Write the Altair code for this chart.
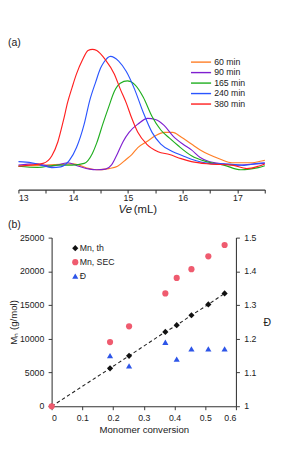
import altair as alt
import pandas as pd

FONT = "Liberation Sans"

# ---------------- panel (a): SEC traces ----------------
series_labels = ["60 min", "90 min", "165 min", "240 min", "380 min"]
series_colors = ["#ff7f27", "#7f1fd0", "#1fae1f", "#2a55ff", "#ff1f1f"]

ve_60 = [13.0, 13.5, 14.0, 14.3, 14.43, 14.65, 14.81, 14.97, 15.07, 15.18, 15.34, 15.50,
         15.66, 15.82, 15.97, 16.16, 16.32, 16.48, 16.69, 16.90, 17.12, 17.27, 17.44, 17.5]
i_60 = [0.0, 0.01, 0.02, -0.02, -0.03, -0.02, 0.0, 0.06, 0.1, 0.16, 0.21, 0.26,
        0.29, 0.29, 0.25, 0.19, 0.14, 0.1, 0.06, 0.03, 0.03, 0.03, 0.045, 0.05]

ve_90 = [13.0, 13.3, 13.6, 13.9, 14.1, 14.3, 14.43, 14.59, 14.70, 14.81, 14.91, 15.02, 15.18,
         15.36, 15.50, 15.66, 15.82, 16.0, 16.16, 16.32, 16.48, 16.75, 17.0, 17.27, 17.5]
i_90 = [0.01, 0.02, 0.0, 0.03, 0.0, -0.025, -0.03, -0.025, 0.012, 0.11, 0.21, 0.29, 0.36,
        0.41, 0.40, 0.35, 0.26, 0.19, 0.14, 0.075, 0.04, 0.02, 0.01, 0.018, 0.025]

ve_165 = [13.0, 13.35, 13.72, 13.98, 14.2, 14.35, 14.43, 14.54, 14.65, 14.75, 14.86, 14.99,
          15.12, 15.28, 15.44, 15.6, 15.76, 15.92, 16.16, 16.43, 16.75, 17.06, 17.22, 17.38, 17.5]
i_165 = [0.0, -0.01, 0.01, 0.01, 0.025, 0.11, 0.2, 0.36, 0.51, 0.64, 0.71, 0.73,
         0.70, 0.59, 0.425, 0.31, 0.24, 0.175, 0.09, 0.04, 0.01, -0.03, -0.025, -0.012, 0.005]

ve_240 = [13.0, 13.24, 13.40, 13.61, 13.77, 13.93, 14.06, 14.20, 14.30, 14.41, 14.50, 14.56,
          14.68, 14.83, 14.97, 15.12, 15.28, 15.44, 15.60, 15.82, 16.0, 16.16, 16.48, 16.85,
          17.12, 17.38, 17.5]
i_240 = [0.04, 0.03, 0.012, -0.012, -0.005, 0.05, 0.16, 0.36, 0.56, 0.72, 0.84, 0.89,
         0.94, 0.90, 0.81, 0.66, 0.46, 0.29, 0.19, 0.125, 0.09, 0.06, 0.025, 0.018,
         0.008, 0.025, 0.03]

ve_380 = [13.0, 13.2, 13.45, 13.61, 13.72, 13.82, 13.90, 13.98, 14.06, 14.17, 14.27, 14.35,
          14.43, 14.59, 14.75, 14.86, 14.97, 15.07, 15.18, 15.34, 15.55, 15.76, 15.97, 16.16,
          16.48, 16.9, 17.17, 17.38, 17.5]
i_380 = [0.0, 0.01, 0.025, 0.09, 0.21, 0.39, 0.55, 0.675, 0.79, 0.91, 0.99, 1.0,
         0.99, 0.91, 0.79, 0.66, 0.54, 0.41, 0.29, 0.19, 0.125, 0.10, 0.065, 0.04,
         0.02, 0.01, -0.02, 0.0, 0.02]

x_ticks_a = [13, 13.5, 14, 14.5, 15, 15.5, 16, 16.5, 17, 17.5]

rows = []
for lab, ves, ins in zip(series_labels, [ve_60, ve_90, ve_165, ve_240, ve_380],
                         [i_60, i_90, i_165, i_240, i_380]):
    for v, i in zip(ves, ins):
        rows.append({"series": lab, "Ve": v, "I": i})
sec = pd.DataFrame(rows)

# panel (a) plot area starts 38 px left of panel (b)'s plot area
SHIFT = -38
color_a = alt.Scale(domain=series_labels, range=series_colors)
leg_a = alt.Legend(orient="none", legendX=164, legendY=21, title=None,
                   symbolType="M-2,0H2", symbolSize=132, symbolStrokeWidth=1.6,
                   labelFontSize=10, labelFont=FONT, labelColor="#222", labelOffset=8,
                   rowPadding=0, padding=0)

curves = alt.Chart(sec).mark_line(strokeWidth=1.3, interpolate="monotone").encode(
    x=alt.X("Ve:Q", scale=alt.Scale(domain=[13, 17.5], nice=False, zero=False,
                                    range=[SHIFT, SHIFT + 282]),
            axis=alt.Axis(values=x_ticks_a, title=None, labelFontSize=10, labelPadding=1,
                          format="~g",
                          labelExpr="datum.value % 1 === 0 ? datum.label : ''",
                          domainWidth=1.6, tickWidth=1.2, tickSize=4)),
    y=alt.Y("I:Q", scale=alt.Scale(domain=[-0.2, 1.1], nice=False, zero=False), axis=None),
    color=alt.Color("series:N", scale=color_a, legend=leg_a),
)

label_a = alt.Chart(pd.DataFrame({"t": ["(a)"]})).mark_text(
    align="left", baseline="top", fontSize=12, font=FONT, color="#222").encode(
    x=alt.value(-50), y=alt.value(0), text="t:N")
title_ve = alt.Chart(pd.DataFrame({"t": ["Ve"]})).mark_text(
    align="right", baseline="middle", fontSize=13, font=FONT, fontStyle="italic",
    color="#222").encode(x=alt.value(SHIFT + 130), y=alt.value(197), text="t:N")
title_ml = alt.Chart(pd.DataFrame({"t": ["(mL)"]})).mark_text(
    align="left", baseline="middle", fontSize=13, font=FONT, color="#222").encode(
    x=alt.value(SHIFT + 132), y=alt.value(197), text="t:N")

top = alt.layer(curves, label_a, title_ve, title_ml).properties(width=282 + SHIFT, height=174)

# ---------------- panel (b): Mn and dispersity vs conversion ----------------
conv = [0, 0.19, 0.252, 0.37, 0.407, 0.455, 0.51, 0.563]
mn_th = [0, 5620, 7480, 11030, 12020, 13500, 15100, 16740]
mn_sec = [0, 9520, 11850, 16740, 19030, 20330, 22230, 23920]
disp_conv = [0.19, 0.252, 0.37, 0.407, 0.455, 0.51, 0.563]
disp = [1.15, 1.12, 1.19, 1.14, 1.17, 1.17, 1.17]

b_series = ["Mn, th", "Mn, SEC", "Đ"]
b_colors = ["#111111", "#ef5b6f", "#2d55e8"]
b_shapes = ["diamond", "circle", "triangle-up"]

mn_df = pd.DataFrame({
    "conv": conv + conv,
    "value": mn_th + mn_sec,
    "grp": ["Mn, th"] * len(conv) + ["Mn, SEC"] * len(conv),
})
th_df = pd.DataFrame({"conv": conv, "value": mn_th})
d_df = pd.DataFrame({"conv": disp_conv, "value": disp, "grp": ["Đ"] * len(disp)})

leg_b = alt.Legend(orient="none", legendX=22, legendY=7, title=None, labelFontSize=10,
                   labelFont=FONT, labelColor="#222", symbolSize=50, rowPadding=6,
                   labelOffset=0, padding=0, symbolStrokeWidth=0, symbolOpacity=1)
color_b = alt.Color("grp:N", scale=alt.Scale(domain=b_series, range=b_colors), legend=leg_b)
shape_b = alt.Shape("grp:N", scale=alt.Scale(domain=b_series, range=b_shapes), legend=leg_b)

x_b = alt.X("conv:Q", scale=alt.Scale(domain=[0, 0.6], nice=False),
            axis=alt.Axis(values=[0, 0.1, 0.2, 0.3, 0.4, 0.5, 0.6], format="~g",
                          title="Monomer conversion", titleFontSize=11, labelFontSize=10,
                          labelPadding=4, titlePadding=3, tickSize=4))
y_mn = alt.Y("value:Q", scale=alt.Scale(domain=[0, 25000], nice=False),
             axis=alt.Axis(values=[0, 5000, 10000, 15000, 20000, 25000], format="d",
                           title="Mₙ (g/mol)", titleFontSize=11, labelFontSize=10,
                           labelPadding=5, titlePadding=1, tickSize=4))

dash = alt.Chart(th_df).mark_line(strokeDash=[4, 3], strokeWidth=1.2, color="#222").encode(
    x=x_b, y=y_mn)
mn_pts = alt.Chart(mn_df).mark_point(filled=True, opacity=1, size=50).encode(
    x=x_b, y=y_mn, color=color_b, shape=shape_b)
d_pts = alt.Chart(d_df).mark_point(filled=True, opacity=1, size=50).encode(
    x=x_b,
    y=alt.Y("value:Q", scale=alt.Scale(domain=[1, 1.5], nice=False, zero=False),
            axis=alt.Axis(orient="right", values=[1, 1.1, 1.2, 1.3, 1.4, 1.5], format="~g",
                          title="Đ", titleAngle=0, titleAlign="left", titleBaseline="middle",
                          titleFontSize=12, labelFontSize=10, labelPadding=5,
                          titlePadding=8, tickSize=4)),
    color=color_b, shape=shape_b)
label_b = alt.Chart(pd.DataFrame({"t": ["(b)"]})).mark_text(
    align="left", baseline="middle", fontSize=12, font=FONT, color="#222").encode(
    x=alt.value(-50), y=alt.value(-15), text="t:N")

bottom = alt.layer(alt.layer(dash, mn_pts, label_b), d_pts).resolve_scale(
    y="independent").properties(width=211, height=193)

chart = alt.vconcat(top, bottom, spacing=4, padding=0).resolve_scale(
    color="independent", shape="independent"
).resolve_legend(color="independent", shape="independent").configure(
    font=FONT
).configure_view(stroke=None).configure_axis(
    grid=False, domainColor="#333", tickColor="#333", labelColor="#222", titleColor="#222",
    labelFont=FONT, titleFont=FONT, titleFontWeight="normal", domainWidth=1.2, tickWidth=1.1
)

chart.save("out.html", embed_options={"renderer": "svg", "actions": False})
